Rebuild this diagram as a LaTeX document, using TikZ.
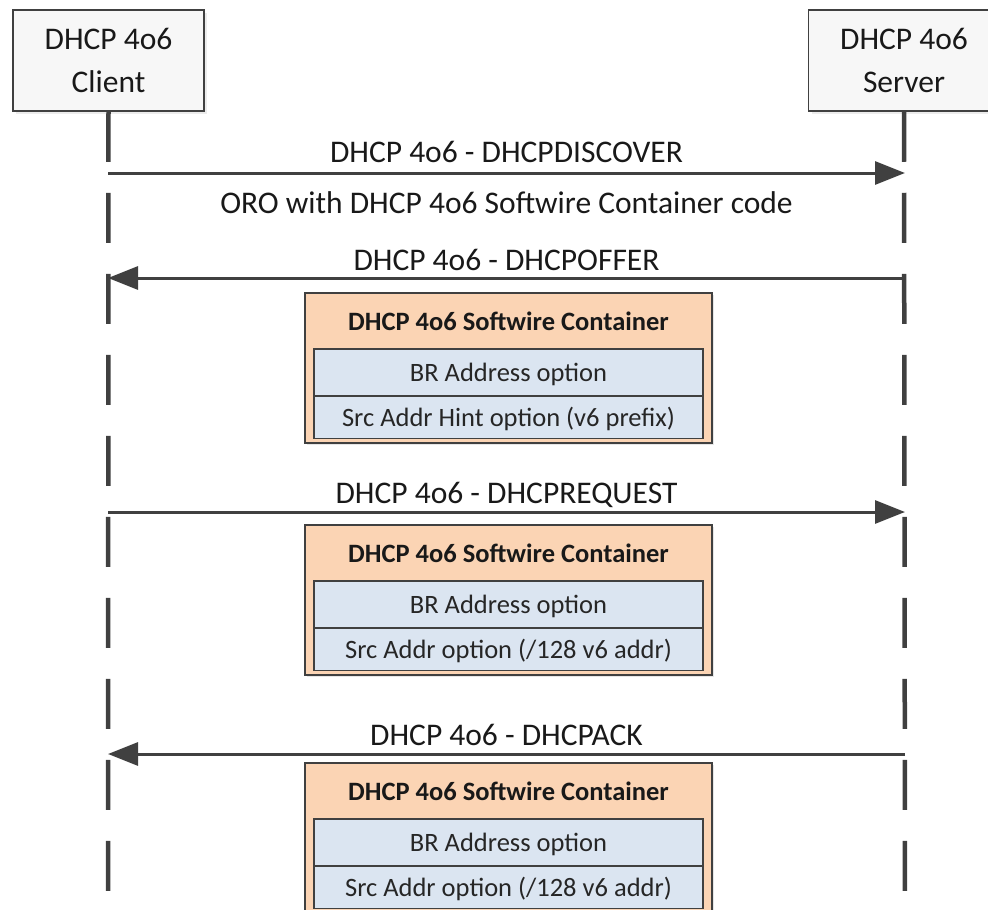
\documentclass[tikz,border=0pt]{standalone}
\usepackage{fontspec}
\setmainfont{Carlito}
\usetikzlibrary{arrows.meta,shadows}
\newcommand{\cliX}{108}
\newcommand{\srvX}{905}
\newcommand{\midX}{506.5}
\newcommand{\boxX}{508.5}
\newcommand{\bottomY}{910}
\definecolor{peach}{HTML}{FBD4B4}
\definecolor{optblue}{HTML}{DBE5F1}
\definecolor{ink}{HTML}{404040}
\newcommand{\msgfont}{\fontsize{31.5}{43}\selectfont}
\newcommand{\optfont}{\fontsize{26.5}{30}\selectfont}

\tikzset{
    actor/.style={draw=ink, line width=1.5pt, fill=black!3, minimum width=191pt, minimum height=101pt, inner sep=0pt, align=center, font=\msgfont, text=black!90, drop shadow={shadow xshift=3pt, shadow yshift=-3pt, opacity=.15}},
    lifeline/.style={draw=ink, line width=4.5pt, dash pattern=on 50pt off 31pt},
    msg/.style={draw=ink, line width=3pt, -{Triangle[length=30pt, width=23pt]}},
    msglabel/.style={anchor=base, font=\msgfont, text=black!90, inner sep=0pt},
    swframe/.style={draw=ink, line width=2.5pt, fill=peach, minimum width=407pt, minimum height=150pt, inner sep=0pt, drop shadow={shadow xshift=2pt, shadow yshift=-2pt, opacity=.2}},
    swtitle/.style={anchor=base, font=\optfont\bfseries, text=black!90, inner sep=0pt},
    optrow/.style={draw=ink, line width=1.5pt, fill=optblue, minimum width=389pt, inner sep=0pt, text height=17pt, text depth=0pt, font=\optfont, text=black!85}
}

% one softwire container: name, top edge, second option
\newcommand{\swcontainer}[3]{%
    \node[swframe] (#1) at (\boxX, #2+75) {};
    \node[swtitle] (#1Title) at (\boxX, #2+37) {DHCP 4o6 Softwire Container};
    \node[optrow, minimum height=47pt] (#1BR) at (\boxX, #2+79.5) {BR Address option};
    \node[optrow, minimum height=42pt] (#1Src) at (\boxX, #2+124.5) {#3};
}

\begin{document}
\begin{tikzpicture}[x=1pt, y=-1pt]
    \useasboundingbox (0, 0) rectangle (988, 910);

    % actors
    \node[actor] (client) at (108.5, 60.5) {DHCP 4o6\\Client};
    \node[actor] (server) at (904, 60.5) {DHCP 4o6\\Server};

    % lifelines
    \coordinate (clientEnd) at (\cliX, \bottomY);
    \coordinate (serverEnd) at (\srvX, \bottomY);
    \draw[lifeline] (client.south) -- (clientEnd);
    \draw[lifeline] (server.south) -- (serverEnd);

    % message ends on the lifelines
    \foreach \name/\y in {disc/173, offer/278, req/512, ack/754} {
        \coordinate (\name C) at (\cliX, \y);
        \coordinate (\name S) at (\srvX, \y);
    }

    % messages
    \draw[msg] (discC) -- (discS);
    \draw[msg] (offerS) -- (offerC);
    \draw[msg] (reqC) -- (reqS);
    \draw[msg] (ackS) -- (ackC);

    % labels
    \node[msglabel] (discLbl) at (\midX, 162) {DHCP 4o6 - DHCPDISCOVER};
    \node[msglabel] (oroLbl) at (\midX, 213) {ORO with DHCP 4o6 Softwire Container code};
    \node[msglabel] (offerLbl) at (\midX, 270) {DHCP 4o6 - DHCPOFFER};
    \node[msglabel] (reqLbl) at (\midX, 503) {DHCP 4o6 - DHCPREQUEST};
    \node[msglabel] (ackLbl) at (\midX, 745) {DHCP 4o6 - DHCPACK};

    % containers
    \swcontainer{offerBox}{293}{Src Addr Hint option (v6 prefix)}
    \swcontainer{reqBox}{525}{Src Addr option (/128 v6 addr)}
    \swcontainer{ackBox}{763}{Src Addr option (/128 v6 addr)}
\end{tikzpicture}
\end{document}
